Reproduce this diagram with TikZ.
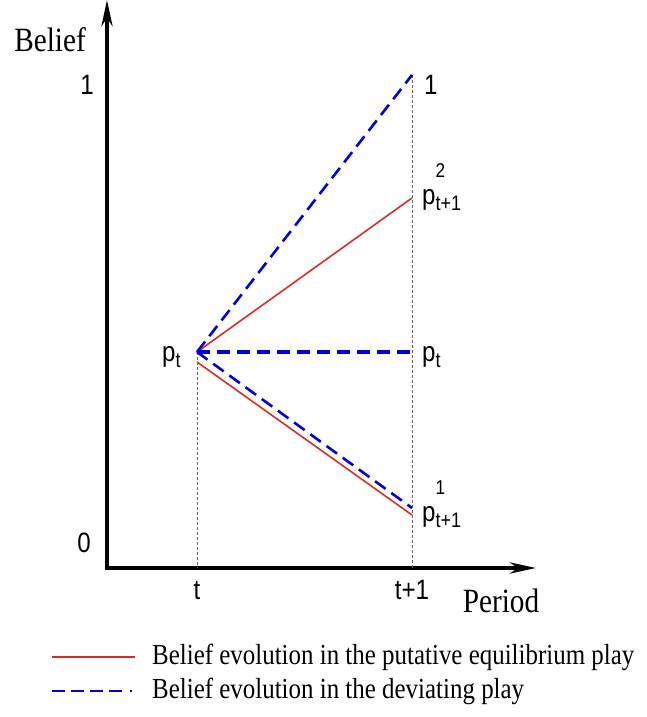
\documentclass[tikz,border=0pt]{standalone}
\usepackage{fontspec}
\usepackage{graphicx}
\setmainfont{Liberation Serif}
\newfontfamily\arialfont{Liberation Sans}
\usetikzlibrary{arrows.meta}
\definecolor{eqred}{RGB}{218,45,40}
\definecolor{devblue}{RGB}{0,0,220}
% text in the original is drawn a little narrow
\newcommand{\narrow}[1]{\scalebox{0.86}[1]{#1}}
% p with a lower and an upper index
\newcommand{\plabel}[2]{\narrow{p\rlap{\raisebox{27pt}{\fontsize{20}{20}\selectfont #2}}\raisebox{-6pt}{\fontsize{21}{21}\selectfont #1}}}
\begin{document}
\begin{tikzpicture}[x=1pt,y=1pt,
  axis/.style={line width=4pt,line join=miter,{Stealth[length=26pt,width=11pt,inset=8pt]}-{Stealth[length=26pt,width=11pt,inset=8pt]}},
  guide/.style={black!60,line width=0.8pt,dash pattern=on 3pt off 2pt},
  eqline/.style={eqred,line width=1.6pt},
  devline/.style={devblue,line width=2.6pt,dash pattern=on 13pt off 7pt},
  tick/.style={font=\arialfont\fontsize{28}{28}\selectfont,inner sep=0pt},
  axlabel/.style={font=\fontsize{34}{34}\selectfont,inner sep=0pt,anchor=base},
  legtext/.style={font=\fontsize{29}{29}\selectfont,inner sep=0pt,anchor=base west}]
\useasboundingbox (0,0) rectangle (646,717);
% axes
\coordinate (ytip) at (107,717);
\coordinate (orig) at (107,149);
\coordinate (xtip) at (536,149);
\draw[axis] (ytip) -- (orig) -- (xtip);
% belief points
\coordinate (pt) at (197,365);
\coordinate (tbase) at (197,149);
\coordinate (top) at (412,642);
\coordinate (t1base) at (412,149);
\coordinate (eqhigh) at (412,519);
\coordinate (mid) at (412,365);
\coordinate (eqstart) at (197,355);
\coordinate (eqlow) at (412,202);
\coordinate (devlow) at (412,209);
\draw[guide] (pt) -- (tbase);
\draw[guide] (top) -- (t1base);
\draw[eqline] (pt) -- (eqhigh);
\draw[eqline] (eqstart) -- (eqlow);
\draw[devline] (pt) -- (top);
\draw[devline,line width=3.2pt] (pt) -- (mid);
\draw[devline] (pt) -- (devlow);
% labels
\node[axlabel] (ylab) at (50,665) {\narrow{Belief}};
\node[axlabel] (xlab) at (501,104) {\narrow{Period}};
\node[tick,anchor=base east] (yone) at (94,622) {\narrow{1}};
\node[tick,anchor=base east] (yzero) at (91,164) {\narrow{0}};
\node[tick,anchor=base] (tlab) at (197,117) {\narrow{t}};
\node[tick,anchor=base] (t1lab) at (412,117) {\narrow{t+1}};
\node[tick,anchor=base west] (ptleft) at (162,355) {\plabel{t}{}};
\node[tick,anchor=base west] (rone) at (424,622) {\narrow{1}};
\node[tick,anchor=base west] (rptwo) at (422,512) {\plabel{t+1}{2}};
\node[tick,anchor=base west] (rpt) at (422,355) {\plabel{t}{}};
\node[tick,anchor=base west] (rpone) at (422,195) {\plabel{t+1}{1}};
% legend
\coordinate (leqa) at (52,60);
\coordinate (leqb) at (135,60);
\coordinate (ldeva) at (52,26);
\coordinate (ldevb) at (133,26);
\draw[eqline] (leqa) -- (leqb);
\draw[devblue,line width=2.6pt,dash pattern=on 13pt off 6pt on 13pt off 6pt on 13pt off 6pt on 13pt off 8pt on 2pt off 6pt] (ldeva) -- (ldevb);
\node[legtext] (leg1) at (152,52) {\narrow{Belief evolution in the putative equilibrium play}};
\node[legtext] (leg2) at (152,18) {\narrow{Belief evolution in the deviating play}};
\end{tikzpicture}
\end{document}
